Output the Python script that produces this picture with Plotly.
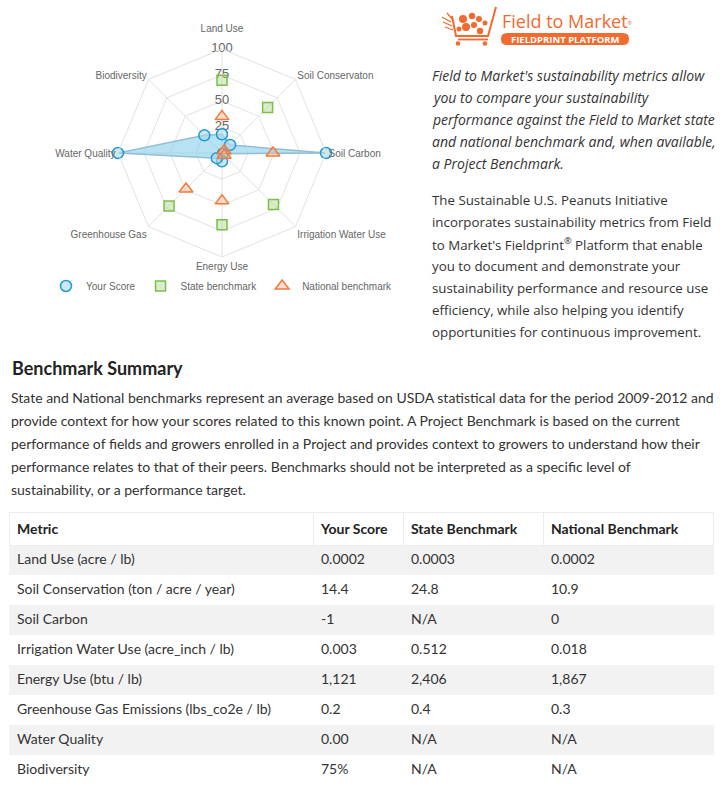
import plotly.graph_objects as go

W, H = 720, 787

# ---------------- data ----------------
categories = ["Land Use", "Soil Conservaton", "Soil Carbon", "Irrigation Water Use",
              "Energy Use", "Greenhouse Gas", "Water Quality", "Biodiversity"]
your_score = [18, 11, 100, 1, 8, 7, 100, 24]
state_benchmark = [70, 62, None, 70, 69, 72, None, None]
national_benchmark = [35, 3, 49, 3, 46, 49, None, None]
radial_ticks = [25, 50, 75, 100]

intro_lines = [
    "Field to Market's sustainability metrics allow",
    "you to compare your sustainability",
    "performance against the Field to Market state",
    "and national benchmark and, when available,",
    "a Project Benchmark.",
]
platform_lines = [
    "The Sustainable U.S. Peanuts Initiative",
    "incorporates sustainability metrics from Field",
    "to Market's Fieldprint<sup>®</sup> Platform that enable",
    "you to document and demonstrate your",
    "sustainability performance and resource use",
    "efficiency, while also helping you identify",
    "opportunities for continuous improvement.",
]
summary_title = "Benchmark Summary"
summary_lines = [
    "State and National benchmarks represent an average based on USDA statistical data for the period 2009-2012 and",
    "provide context for how your scores related to this known point. A Project Benchmark is based on the current",
    "performance of fields and growers enrolled in a Project and provides context to growers to understand how their",
    "performance relates to that of their peers. Benchmarks should not be interpreted as a specific level of",
    "sustainability, or a performance target.",
]

table_header = ["Metric", "Your Score", "State Benchmark", "National Benchmark"]
table_metrics = ["Land Use (acre / lb)", "Soil Conservation (ton / acre / year)", "Soil Carbon",
                 "Irrigation Water Use (acre_inch / lb)", "Energy Use (btu / lb)",
                 "Greenhouse Gas Emissions (lbs_co2e / lb)", "Water Quality", "Biodiversity"]
table_your = ["0.0002", "14.4", "-1", "0.003", "1,121", "0.2", "0.00", "75%"]
table_state = ["0.0003", "24.8", "N/A", "0.512", "2,406", "0.4", "N/A", "N/A"]
table_national = ["0.0002", "10.9", "0", "0.018", "1,867", "0.3", "N/A", "N/A"]

# ---------------- styles ----------------
ORANGE = "#f26a2e"
TEXT = "#333333"
BODY_FONT = "Lato, Roboto, sans-serif"
SIDE_FONT = "Open Sans, sans-serif"
CHART_FONT = "Liberation Sans, Arial, sans-serif"


def closed(v):
    return list(v) + list(v[:1])


# top label gets an extra blank line so it sits higher above the 100 tick
tick_labels = [c + "<br> " if i == 0 else c for i, c in enumerate(categories)]

fig = go.Figure()

# invisible pixel-space axes for page decorations
fig.add_trace(go.Scatter(x=[None], y=[None], showlegend=False, hoverinfo="skip"))

# radial tick labels
fig.add_trace(go.Scatterpolar(
    r=radial_ticks, theta=[categories[0]] * len(radial_ticks),
    text=[str(t) for t in radial_ticks], mode="text",
    textfont=dict(size=13, color="#666666", family=CHART_FONT),
    showlegend=False, hoverinfo="skip"))

# Your Score polygon
fig.add_trace(go.Scatterpolar(
    r=closed(your_score), theta=closed(categories), name="Your Score",
    mode="lines", fill="toself", showlegend=False, hoverinfo="skip",
    fillcolor="rgba(135,206,235,0.6)",
    line=dict(color="rgba(140,185,210,0.9)", width=1.5)))

fig.add_trace(go.Scatterpolar(
    r=your_score, theta=categories, name="Your Score", mode="markers",
    marker=dict(symbol="circle", size=11, color="rgba(173,216,230,0.6)",
                line=dict(color="#1f9ad6", width=1.5))))

fig.add_trace(go.Scatterpolar(
    r=state_benchmark, theta=categories, name="State benchmark", mode="markers",
    marker=dict(symbol="square", size=10, color="rgba(170,215,140,0.45)",
                line=dict(color="#7cbf4a", width=1.5))))

fig.add_trace(go.Scatterpolar(
    r=national_benchmark, theta=categories, name="National benchmark", mode="markers",
    marker=dict(symbol="triangle-up", size=12, color="rgba(250,180,150,0.45)",
                line=dict(color="#f27a3c", width=1.5))))

# table
row_fill = ["#f2f2f2" if i % 2 == 0 else "#ffffff" for i in range(len(table_metrics))]
fig.add_trace(go.Table(
    domain=dict(x=[9 / W, 713 / W], y=[1 - 782 / H, 1 - 512 / H]),
    columnwidth=[304, 90, 140, 170],
    header=dict(values=["<b>%s</b>" % h for h in table_header], align="left", height=30,
                fill_color="#ffffff", line=dict(color="#ececec", width=1),
                font=dict(family=BODY_FONT, size=14, color="#222222")),
    cells=dict(values=[table_metrics, table_your, table_state, table_national],
               align="left", height=30,
               fill_color=[row_fill] * 4,
               line=dict(color=[row_fill] * 4, width=1),
               font=dict(family=BODY_FONT, size=14, color=TEXT))))

# ---------------- annotations ----------------
ann = []
for i, t in enumerate(intro_lines):
    ann.append(dict(x=430, y=75 + 22 * i, text="<i>%s</i>" % t, showarrow=False,
                    xanchor="left", yanchor="middle", xref="x", yref="y",
                    font=dict(family=SIDE_FONT, size=14, color=TEXT)))
for i, t in enumerate(platform_lines):
    ann.append(dict(x=430, y=200 + 22 * i, text=t, showarrow=False,
                    xanchor="left", yanchor="middle", xref="x", yref="y",
                    font=dict(family=SIDE_FONT, size=13.3, color=TEXT)))
ann.append(dict(x=10, y=368, text="<b>%s</b>" % summary_title, showarrow=False,
                xanchor="left", yanchor="middle", xref="x", yref="y",
                font=dict(family=BODY_FONT, size=18, color="#222222")))
for i, t in enumerate(summary_lines):
    ann.append(dict(x=9, y=397 + 23 * i, text=t, showarrow=False,
                    xanchor="left", yanchor="middle", xref="x", yref="y",
                    font=dict(family=BODY_FONT, size=14, color=TEXT)))

# logo text
ann.append(dict(x=500, y=21, text="Field to Market<span style='font-size:7px'><sup>®</sup></span>",
                showarrow=False, xanchor="left", yanchor="middle", xref="x", yref="y",
                font=dict(family=SIDE_FONT, size=18, color=ORANGE)))
ann.append(dict(x=565, y=39.5, text="<b>FIELDPRINT PLATFORM</b>", showarrow=False,
                xanchor="center", yanchor="middle", xref="x", yref="y",
                font=dict(family=SIDE_FONT, size=9.5, color="#ffffff")))

# ---------------- logo shapes ----------------
shapes = []
shapes.append(dict(type="path", xref="x", yref="y",
                   path="M 507 33 L 623 33 Q 629 33 629 39 Q 629 45 623 45 L 507 45 Q 501 45 501 39 Q 501 33 507 33 Z",
                   fillcolor=ORANGE, line=dict(width=0)))
shapes.append(dict(type="path", xref="x", yref="y",
                   path="M 452 16 L 456 36 L 488 36 L 496 7",
                   line=dict(color=ORANGE, width=2)))
shapes.append(dict(type="path", xref="x", yref="y",
                   path="M 458 39.5 L 488 39.5", line=dict(color=ORANGE, width=1.8)))
for (x0, y0, x1, y1) in [(442, 17, 451, 22), (443, 22, 452, 26), (445, 27, 453, 30), (447, 13, 452, 19)]:
    shapes.append(dict(type="line", xref="x", yref="y", x0=x0, y0=y0, x1=x1, y1=y1,
                       line=dict(color=ORANGE, width=1.3)))
for (cx, cy, r) in [(463, 19, 4), (472, 16, 3.2), (466, 27, 4), (474, 25, 3), (480, 31, 3.2),
                    (479, 19, 3), (485, 23, 2.5), (459, 29, 2.5), (458, 43.5, 2.3), (485, 43.5, 2.3)]:
    shapes.append(dict(type="circle", xref="x", yref="y", x0=cx - r, x1=cx + r, y0=cy - r, y1=cy + r,
                       fillcolor=ORANGE, line=dict(width=0)))

fig.update_layout(
    width=W, height=H, margin=dict(l=0, r=0, t=0, b=0, pad=0),
    paper_bgcolor="white", plot_bgcolor="white",
    xaxis=dict(range=[0, W], domain=[0, 1], visible=False, fixedrange=True),
    yaxis=dict(range=[H, 0], domain=[0, 1], visible=False, fixedrange=True),
    polar=dict(
        domain=dict(x=[118 / W, 326 / W], y=[1 - 257 / H, 1 - 49 / H]),
        bgcolor="white", gridshape="linear",
        radialaxis=dict(range=[0, 100], tickvals=radial_ticks, showticklabels=False,
                        ticks="", showline=False, gridcolor="#e2e2e2", gridwidth=1),
        angularaxis=dict(rotation=90, direction="clockwise", categoryorder="array",
                         categoryarray=categories, tickmode="array", tickvals=categories,
                         ticktext=tick_labels, ticks="", gridcolor="#e2e2e2",
                         linecolor="#e2e2e2", showline=True,
                         tickfont=dict(family=CHART_FONT, size=10, color="#666666")),
    ),
    legend=dict(orientation="h", x=222 / W, xanchor="center", y=1 - 286 / H, yanchor="middle",
                font=dict(family=CHART_FONT, size=10, color="#666666"),
                bgcolor="rgba(0,0,0,0)", itemwidth=30, tracegroupgap=0),
    annotations=ann, shapes=shapes,
    showlegend=True,
)

fig.write_html("out.html", config={"displayModeBar": False},
               post_script="document.body.style.margin='0';")
